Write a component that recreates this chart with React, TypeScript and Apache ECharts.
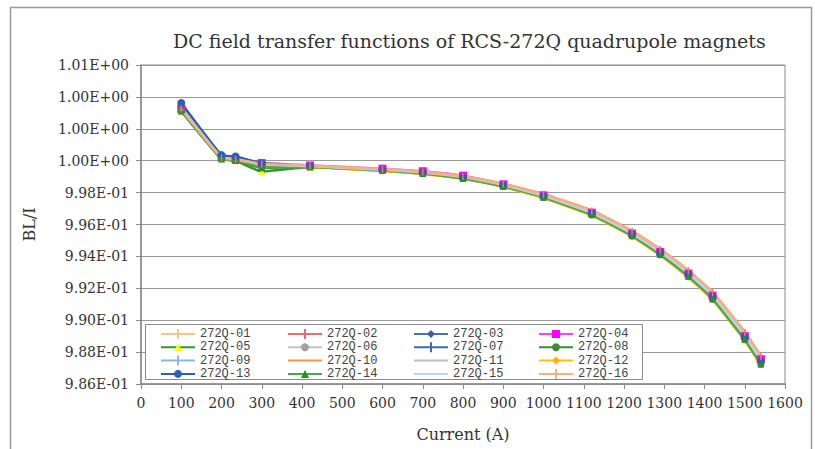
import { useEffect, useRef } from "react";
import * as echarts from "echarts";

// Excitation currents (A) at which the transfer function was measured
const currents = [100, 200, 235, 300, 420, 600, 700, 800, 900, 1000, 1120, 1220, 1290, 1360, 1420, 1500, 1540];

// Normalised BL/I for each magnet
const q01 = [1.00322, 1.00015, 1.00005, 0.99978, 0.99967, 0.99944, 0.99927, 0.99898, 0.9985, 0.99785, 0.9968, 0.99552, 0.99438, 0.99305, 0.99168, 0.98918, 0.98765];
const q02 = [1.00326, 1.00018, 1.00006, 0.9998, 0.99968, 0.99945, 0.99928, 0.999, 0.99852, 0.99786, 0.9968, 0.9955, 0.99436, 0.99302, 0.99165, 0.98915, 0.98762];
const q03 = [1.00356, 1.00032, 1.00024, 0.99982, 0.99966, 0.99942, 0.99924, 0.99894, 0.99844, 0.99776, 0.99668, 0.99538, 0.99422, 0.99287, 0.99148, 0.98895, 0.9874];
const q04 = [1.00324, 1.0002, 1.00008, 0.99985, 0.9997, 0.9995, 0.99934, 0.99906, 0.99852, 0.99783, 0.99674, 0.99543, 0.99428, 0.99292, 0.99154, 0.989, 0.98755];
const q05 = [1.00312, 1.00012, 1.0, 0.99932, 0.9996, 0.99938, 0.9992, 0.9989, 0.9984, 0.99772, 0.99664, 0.99533, 0.99416, 0.9928, 0.9914, 0.98886, 0.9873];
const q06 = [1.00318, 1.00016, 1.00006, 0.99986, 0.9997, 0.99948, 0.9993, 0.99902, 0.9985, 0.99782, 0.99675, 0.99545, 0.9943, 0.99295, 0.99156, 0.98905, 0.9875];
const q07 = [1.00352, 1.0003, 1.00022, 0.9998, 0.99965, 0.99941, 0.99923, 0.99893, 0.99843, 0.99775, 0.99667, 0.99537, 0.99421, 0.99286, 0.99147, 0.98894, 0.98738];
const q08 = [1.00314, 1.00012, 1.00002, 0.99955, 0.99962, 0.99938, 0.99919, 0.99888, 0.99838, 0.9977, 0.9966, 0.99528, 0.9941, 0.99272, 0.99132, 0.98878, 0.98722];
const q09 = [1.00334, 1.00022, 1.00012, 0.99979, 0.99966, 0.99943, 0.99926, 0.99896, 0.99846, 0.99779, 0.99671, 0.99541, 0.99426, 0.99291, 0.99153, 0.98901, 0.98748];
const q10 = [1.00328, 1.00019, 1.00008, 0.99978, 0.99968, 0.99946, 0.9993, 0.99902, 0.99856, 0.99792, 0.99688, 0.9956, 0.99446, 0.99312, 0.99176, 0.98928, 0.98775];
const q11 = [1.0033, 1.0002, 1.00009, 0.9998, 0.99967, 0.99944, 0.99928, 0.99898, 0.99849, 0.99782, 0.99676, 0.99547, 0.99432, 0.99298, 0.9916, 0.9891, 0.98758];
const q12 = [1.00316, 1.00014, 1.00003, 0.99972, 0.9996, 0.99936, 0.99917, 0.99886, 0.99835, 0.99766, 0.99656, 0.99524, 0.99406, 0.99268, 0.99128, 0.98872, 0.98715];
const q13 = [1.00362, 1.00035, 1.00026, 0.99984, 0.99967, 0.99943, 0.99925, 0.99895, 0.99845, 0.99777, 0.99669, 0.99539, 0.99423, 0.99288, 0.99149, 0.98896, 0.98742];
const q14 = [1.00312, 1.00011, 1.00001, 0.99958, 0.99961, 0.99938, 0.9992, 0.99889, 0.99839, 0.99771, 0.99662, 0.9953, 0.99412, 0.99275, 0.99135, 0.9888, 0.98725];
const q15 = [1.00332, 1.00021, 1.0001, 0.99978, 0.99966, 0.99943, 0.99926, 0.99897, 0.99847, 0.9978, 0.99673, 0.99543, 0.99428, 0.99293, 0.99155, 0.98903, 0.9875];
const q16 = [1.00324, 1.00017, 1.00007, 0.99979, 0.99968, 0.99946, 0.99929, 0.99901, 0.99854, 0.9979, 0.99685, 0.99557, 0.99443, 0.9931, 0.99173, 0.98924, 0.98772];

const magnetNames = [
  "272Q-01", "272Q-02", "272Q-03", "272Q-04",
  "272Q-05", "272Q-06", "272Q-07", "272Q-08",
  "272Q-09", "272Q-10", "272Q-11", "272Q-12",
  "272Q-13", "272Q-14", "272Q-15", "272Q-16",
];
const magnetData = [q01, q02, q03, q04, q05, q06, q07, q08, q09, q10, q11, q12, q13, q14, q15, q16];

// Thin vertical tick used as a "+" style marker on the line
const TICK = "path://M0,0 L2,0 L2,10 L0,10 Z";
// Legend sample for tick-marked lines: a 34x10 stroke with the tick at its centre
const TICK_LEGEND = "path://M0,4 L34,4 L34,6 L0,6 Z M16,0 L18,0 L18,10 L16,10 Z";

// Line colour, marker shape, marker size, marker colour
const styles: [string, string, number, string][] = [
  ["#F9C48E", TICK, 7, "#F4A860"],
  ["#EE6A70", TICK, 7, "#8EC9E8"],
  ["#4A72B0", "diamond", 6, "#3A60A0"],
  ["#FF40FF", "rect", 8, "#FF00FF"],
  ["#2E9A2E", "triangle", 7, "#FFFF00"],
  ["#C4C4C4", "circle", 5, "#A0A0A0"],
  ["#3D6BB0", TICK, 7, "#2E5A9E"],
  ["#3A8C3A", "circle", 7, "#3A8C3A"],
  ["#8DB8E2", TICK, 7, "#7AA8D8"],
  ["#F7964B", "none", 0, "#F7964B"],
  ["#BDBDBD", "none", 0, "#BDBDBD"],
  ["#FFC000", "diamond", 5, "#FFB000"],
  ["#2E5FB5", "circle", 8, "#2E5FB5"],
  ["#4AA84A", "triangle", 7, "#2E8B2E"],
  ["#B9D5F0", "none", 0, "#B9D5F0"],
  ["#F5B08A", TICK, 7, "#F08050"],
];

const yMin = 0.986;
const yMax = 1.006;
const yStep = 0.002;

function sci(v: number): string {
  const [m, e] = v.toExponential(2).split("e");
  const n = parseInt(e, 10);
  return m + "E" + (n < 0 ? "-" : "+") + String(Math.abs(n)).padStart(2, "0");
}

const serif = "DejaVu Serif";

export default function App() {
  const ref = useRef<HTMLDivElement>(null);

  useEffect(() => {
    if (!ref.current) return;
    const chart = echarts.init(ref.current, undefined, { renderer: "svg" });

    const series = magnetNames.map((name, i) => {
      const [line, symbol, size, mark] = styles[i];
      return {
        name,
        type: "line",
        data: currents.map((c, k) => [c, magnetData[i][k]]),
        smooth: 0.12,
        symbol,
        symbolSize: size,
        symbolKeepAspect: true,
        showSymbol: symbol !== "none",
        lineStyle: { color: line, width: 2.5 },
        itemStyle: { color: mark, borderColor: mark, borderWidth: 0 },
        color: line,
        z: 2,
      };
    });

    const legendItem = (idx: number) => {
      const [line, symbol] = styles[idx];
      const name = magnetNames[idx];
      if (symbol === "none") return { name, itemStyle: { opacity: 0 } };
      if (symbol === TICK) return { name, icon: TICK_LEGEND, itemStyle: { color: line, borderWidth: 0 } };
      return { name };
    };

    const columnsLeft = [160, 287, 413, 538];
    const legends = columnsLeft.map((left, col) => ({
      orient: "vertical",
      left,
      top: 328,
      padding: 0,
      itemWidth: 34,
      itemHeight: 10,
      itemGap: 1.3,
      selectedMode: false,
      symbolKeepAspect: true,
      z: 10,
      data: [0, 1, 2, 3].map((row) => legendItem(row * 4 + col)),
      textStyle: { fontFamily: "Liberation Mono", fontSize: 12, lineHeight: 10, color: "#444" },
    }));

    chart.setOption({
      animation: false,
      backgroundColor: "#ffffff",
      title: {
        text: "DC field transfer functions of RCS-272Q quadrupole magnets",
        left: 168,
        top: 26,
        textStyle: { fontFamily: serif, fontSize: 19, fontWeight: "normal", color: "#333" },
      },
      legend: legends,
      grid: {
        left: 141,
        right: 30,
        top: 65,
        bottom: 65,
        show: true,
        borderColor: "#8a8a8a",
        borderWidth: 1,
        backgroundColor: "transparent",
      },
      xAxis: {
        type: "value",
        min: 0,
        max: 1600,
        interval: 100,
        name: "Current (A)",
        nameLocation: "middle",
        nameGap: 42,
        nameTextStyle: { fontFamily: serif, fontSize: 16, color: "#333" },
        axisLine: { lineStyle: { color: "#8a8a8a", width: 1.5 } },
        axisTick: { lineStyle: { color: "#8a8a8a" }, length: 5 },
        axisLabel: {
          fontFamily: serif,
          fontSize: 14,
          color: "#333",
          margin: 12,
          formatter: (v: number) => String(v),
        },
        splitLine: { show: false },
      },
      yAxis: {
        type: "value",
        min: yMin,
        max: yMax,
        interval: yStep,
        name: "BL/I",
        nameLocation: "middle",
        nameGap: 104,
        nameRotate: 90,
        nameTextStyle: { fontFamily: serif, fontSize: 16, color: "#333" },
        axisLine: { show: true, lineStyle: { color: "#8a8a8a", width: 1.5 } },
        axisTick: { show: true, lineStyle: { color: "#8a8a8a" }, length: 5 },
        axisLabel: { fontFamily: serif, fontSize: 14, color: "#333", margin: 12, formatter: sci },
        splitLine: { lineStyle: { color: "#9a9a9a", width: 1.2 } },
      },
      graphic: [
        {
          type: "rect",
          silent: true,
          z: -10,
          shape: { x: 10.5, y: 7.5, width: 801, height: 460 },
          style: { fill: "none", stroke: "#9a9a9a", lineWidth: 1.5 },
        },
        {
          type: "rect",
          silent: true,
          z: 5,
          shape: { x: 145.5, y: 324.5, width: 497, height: 55 },
          style: { fill: "#ffffff", stroke: "#8a8a8a", lineWidth: 1 },
        },
      ],
      series,
    });

    return () => chart.dispose();
  }, []);

  return (
    <div
      ref={ref}
      style={{ position: "fixed", left: 0, top: 0, width: 815, height: 449 }}
    />
  );
}
